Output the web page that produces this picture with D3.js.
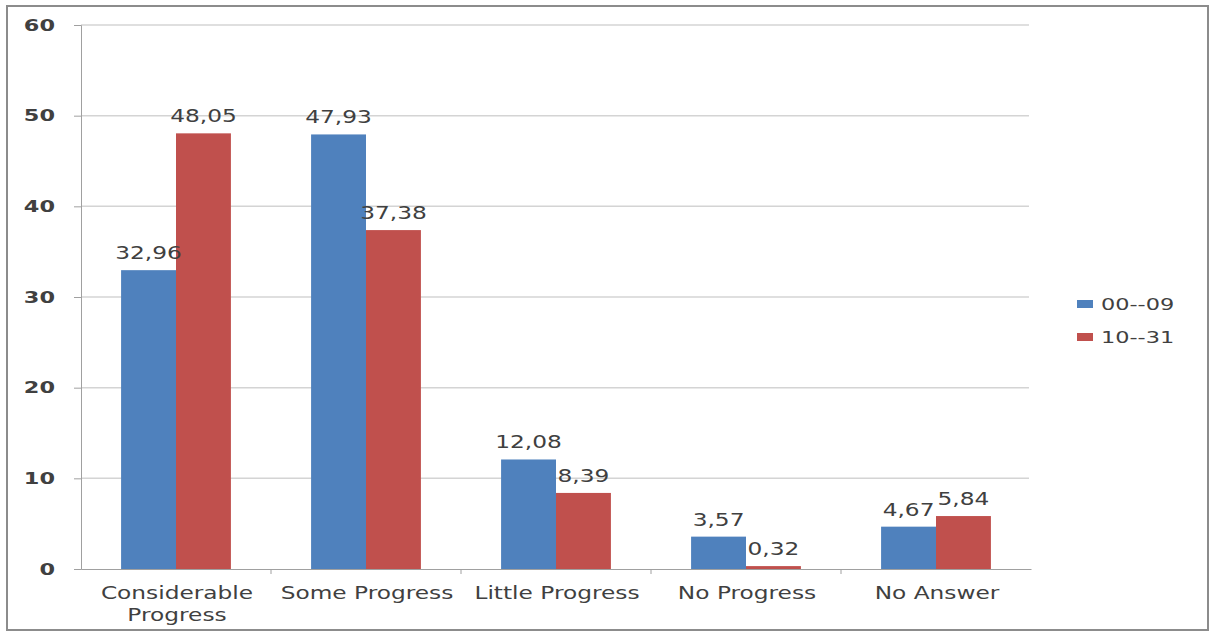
<!DOCTYPE html>
<html>
<head>
<meta charset="utf-8">
<script src="https://cdn.jsdelivr.net/npm/d3@7"></script>
<style>
  body { margin: 0; background: #fff; }
  svg text { font-family: "DejaVu Sans", "Open Sans", sans-serif; fill: #404040; }
</style>
</head>
<body>
<svg id="chart" width="1213" height="633"></svg>
<script>
var categories = ["Considerable Progress", "Some Progress", "Little Progress", "No Progress", "No Answer"];
var seriesNames = ["00--09", "10--31"];
var series0009 = [32.96, 47.93, 12.08, 3.57, 4.67];
var series1031 = [48.05, 37.38, 8.39, 0.32, 5.84];
var yTicks = [0, 10, 20, 30, 40, 50, 60];
var colors = ["#4F81BD", "#C0504D"];

(function () {
var svg = d3.select('#chart');
var stretch = 1.33; // the source text is horizontally stretched

// outer frame
svg.append('rect')
  .attr('x', 7).attr('y', 6).attr('width', 1201).attr('height', 624)
  .attr('fill', 'none').attr('stroke', '#8c8c8c').attr('stroke-width', 2);

var left = 81, right = 1031, plotTop = 25, bottom = 569;

var x = d3.scaleBand().domain(categories).range([left, right]).paddingInner(0).paddingOuter(0);
var xs = d3.scaleBand().domain(seriesNames).range([0, x.bandwidth()]).paddingOuter(0.73).paddingInner(0);
var y = d3.scaleLinear().domain([0, 60]).range([bottom, plotTop]);

// gridlines
svg.append('g').selectAll('line')
  .data(yTicks.filter(function (d) { return d > 0; }))
  .enter().append('line')
  .attr('x1', left).attr('x2', right - 2)
  .attr('y1', function (d) { return y(d); }).attr('y2', function (d) { return y(d); })
  .attr('stroke', '#d4d4d4').attr('stroke-width', 1.5);

// y axis
var yAxis = svg.append('g')
  .attr('transform', 'translate(' + left + ',0)')
  .call(d3.axisLeft(y).tickValues(yTicks).tickSize(7).tickPadding(0));
yAxis.select('.domain').attr('stroke', '#a0a0a0');
yAxis.selectAll('.tick line').attr('stroke', '#a0a0a0');
yAxis.selectAll('text')
  .attr('x', 0)
  .attr('transform', 'translate(-26,0) scale(1.4,1)')
  .attr('font-size', '16px').attr('font-weight', 'bold').attr('fill', '#555')
  .attr('font-family', '"DejaVu Sans", sans-serif');

// bars
var rows = categories.map(function (c, i) {
  return { cat: c, vals: [series0009[i], series1031[i]] };
});

var groups = svg.append('g').selectAll('g')
  .data(rows)
  .enter().append('g')
  .attr('transform', function (d) { return 'translate(' + x(d.cat) + ',0)'; });

function items(d) {
  return d.vals.map(function (v, j) { return { name: seriesNames[j], v: v, j: j }; });
}

groups.selectAll('rect')
  .data(items)
  .enter().append('rect')
  .attr('x', function (d) { return xs(d.name); })
  .attr('width', xs.bandwidth())
  .attr('y', function (d) { return y(d.v); })
  .attr('height', function (d) { return bottom - y(d.v); })
  .attr('fill', function (d) { return colors[d.j]; });

groups.selectAll('text.val')
  .data(items)
  .enter().append('text')
  .attr('class', 'val')
  .attr('transform', function (d) {
    return 'translate(' + (xs(d.name) + xs.bandwidth() / 2) + ',' + (y(d.v) - 11) + ') scale(' + stretch + ',1)';
  })
  .attr('text-anchor', 'middle')
  .attr('font-size', '17.5px')
  .text(function (d) { return d3.format('.2f')(d.v).replace('.', ','); });

// x axis
var xAxis = svg.append('g')
  .attr('transform', 'translate(0,' + bottom + ')')
  .call(d3.axisBottom(x).tickSize(0).tickFormat(''));
xAxis.select('.domain').attr('stroke', '#a0a0a0');

svg.append('g').selectAll('line')
  .data(categories.slice(1))
  .enter().append('line')
  .attr('x1', function (d) { return x(d); }).attr('x2', function (d) { return x(d); })
  .attr('y1', bottom).attr('y2', bottom + 5)
  .attr('stroke', '#a0a0a0');

var labels = svg.append('g').selectAll('text')
  .data(categories)
  .enter().append('text')
  .attr('transform', function (d) {
    return 'translate(' + (x(d) + x.bandwidth() / 2 + 1) + ',' + (bottom + 30) + ') scale(' + stretch + ',1)';
  })
  .attr('text-anchor', 'middle')
  .attr('font-size', '17.5px');

labels.each(function (d) {
  var t = d3.select(this);
  var lines = d === 'Considerable Progress' ? ['Considerable', 'Progress'] : [d];
  lines.forEach(function (l, i) {
    t.append('tspan').attr('x', 0).attr('dy', i === 0 ? 0 : 22).text(l);
  });
});

// legend
var legend = svg.append('g').selectAll('g')
  .data(seriesNames)
  .enter().append('g')
  .attr('transform', function (d, i) { return 'translate(1077,' + (304 + i * 33) + ')'; });
legend.append('rect')
  .attr('x', 0).attr('y', -4).attr('width', 16).attr('height', 8)
  .attr('fill', function (d, i) { return colors[i]; });
legend.append('text')
  .attr('transform', 'translate(24,6) scale(1.4,1)')
  .attr('font-size', '16px')
  .text(function (d) { return d; });
})();
</script>
</body>
</html>
